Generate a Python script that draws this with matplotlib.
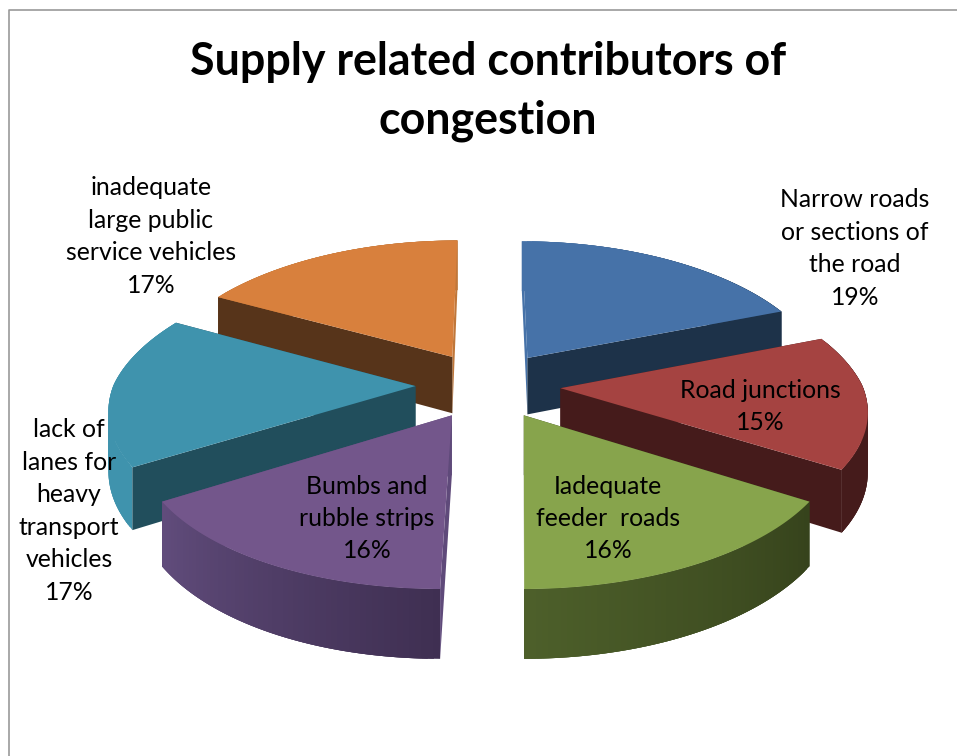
import numpy as np
from matplotlib import pyplot as plt
from matplotlib.patches import Polygon

title = 'Supply related contributors of\ncongestion'
labels = ['Narrow roads\nor sections of\nthe road\n19%',
          'Road junctions\n15%',
          'Iadequate\nfeeder  roads\n16%',
          'Bumbs and\nrubble strips\n16%',
          'lack of\nlanes for\nheavy\ntransport\nvehicles\n17%',
          'inadequate\nlarge public\nservice vehicles\n17%']
values = [19, 15, 16, 16, 17, 17]

top_colors = ['#4672a8', '#a54341', '#87a44c', '#73568b', '#3f93ad', '#d8803d']
start_wall_colors = ['#4672a8', '#451b1b', '#36431c', '#5f4a7a', '#214e5c', '#57341a']
end_wall_colors = ['#1d3249', '#451b1b', '#4d5f2a', '#5f4a7a', '#214e5c', '#c0773a']
rim_start_colors = ['#4672a8', '#451b1b', '#36431c', '#3f2f52', '#3f93ad', '#c0773a']
rim_end_colors = ['#1d3249', '#451b1b', '#4d5f2a', '#614c7c', '#3f93ad', '#c0773a']
label_pos = [(855, 248.5), (760, 406.5), (608, 518.5), (367, 518.5), (69, 511), (151, 236.5)]
draw_order = [0, 5, 1, 4, 2, 3]
# which cut face of each slice looks at the viewer
start_wall_front = [False, False, False, True, True, True]

# projection of the tilted pie, in pixels
cx, cy = 488, 385
rx, ry = 302, 140
persp = 0.14
back_squeeze = 0.03
front_shear = 4
depth = 58
explode = 0.24


def project(x, y, z=0):
    # y is towards the viewer
    w = 1 - persp * y
    wx = w + back_squeeze * max(-y, 0)
    return cx + rx * x / wx - front_shear * max(y, 0) ** 2, cy + ry * y / w + z * depth / w


def hex_mix(c1, c2, t):
    a = np.array([int(c1[i:i + 2], 16) for i in (1, 3, 5)])
    b = np.array([int(c2[i:i + 2], 16) for i in (1, 3, 5)])
    return tuple((a + (b - a) * t) / 255)


fig = plt.figure(figsize=(9.57, 7.56), dpi=100)
ax = fig.add_axes([0, 0, 1, 1])
ax.set_xlim(0, 957)
ax.set_ylim(756, 0)
ax.axis('off')

# chart frame
ax.plot([8.5, 8.5, 957], [756, 9.5, 9.5], color='#999999', lw=1.2)

fracs = np.array(values) / sum(values)
edges = np.concatenate([[0], np.cumsum(fracs)]) * 2 * np.pi

for i in draw_order:
    t0, t1 = edges[i], edges[i + 1]
    mid = (t0 + t1) / 2
    ox, oy = explode * np.sin(mid), -explode * np.cos(mid)
    th = np.linspace(t0, t1, 60)
    xs = ox + np.sin(th)
    ys = oy - np.cos(th)

    apex_top = project(ox, oy)
    apex_bot = project(ox, oy, 1)
    rim_top = [project(a, b) for a, b in zip(xs, ys)]
    rim_bot = [project(a, b, 1) for a, b in zip(xs, ys)]

    start_wall = Polygon([apex_top, rim_top[0], rim_bot[0], apex_bot],
                         fc=start_wall_colors[i], ec='none')
    end_wall = Polygon([apex_top, rim_top[-1], rim_bot[-1], apex_bot],
                       fc=end_wall_colors[i], ec='none')
    if start_wall_front[i]:
        back_wall, front_wall = end_wall, start_wall
    else:
        back_wall, front_wall = start_wall, end_wall

    ax.add_patch(back_wall)
    # rim pieces overlap the next one so no seams show
    for k in range(len(th) - 1):
        col = hex_mix(rim_start_colors[i], rim_end_colors[i], k / (len(th) - 2))
        k2 = min(k + 3, len(th) - 1)
        ax.add_patch(Polygon([rim_top[k], rim_top[k2], rim_bot[k2], rim_bot[k]],
                             fc=col, ec='none'))
    ax.add_patch(front_wall)
    ax.add_patch(Polygon([apex_top] + rim_top, fc=top_colors[i], ec='none'))

for lab, (lx, ly) in zip(labels, label_pos):
    ax.text(lx, ly, lab, ha='center', va='center', fontsize=17.8, family='Lato',
            linespacing=1.5, color='black')

ax.text(488, 91.5, title, ha='center', va='center', fontsize=32.2, family='Lato',
        fontweight='bold', linespacing=1.5, color='black')

fig.savefig('out.png', dpi=100)
